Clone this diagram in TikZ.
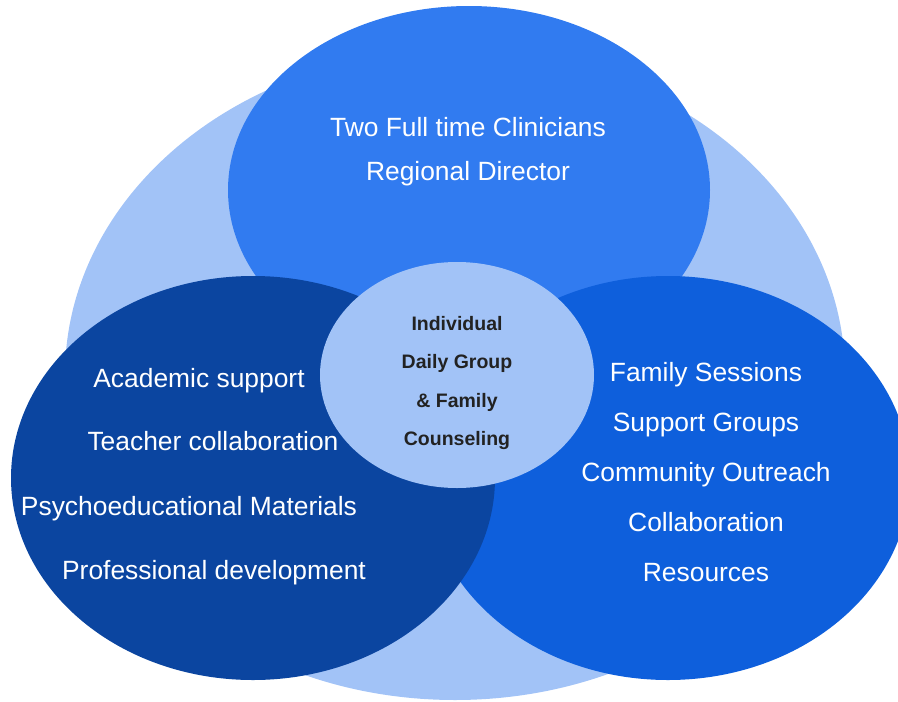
\documentclass[tikz,border=0pt]{standalone}
\usepackage{fontspec}
\setmainfont{Liberation Sans}
\usetikzlibrary{shapes.geometric}

\definecolor{paleBlue}{HTML}{A2C3F7}
\definecolor{midBlue}{HTML}{317BF0}
\definecolor{brightBlue}{HTML}{0E5FDC}
\definecolor{deepBlue}{HTML}{0B45A0}
\definecolor{darkText}{HTML}{222222}

\begin{document}
\begin{tikzpicture}[x=1pt,y=-1pt]
          \tikzstyle{blob} = [ellipse, inner sep=0pt, draw=none]
          \tikzstyle{item} = [text=white, font=\fontsize{26.4}{26.4}\selectfont, inner sep=0pt, anchor=base]
          \tikzstyle{core} = [text=darkText, font=\bfseries\fontsize{19.5}{19.5}\selectfont, inner sep=0pt, anchor=base]

          \useasboundingbox (0,0) rectangle (898,702);

          % back ellipse, then the three groups, centre on top
          \node(Outer)[blob, fill=paleBlue, minimum width=780pt, minimum height=650pt] at (455,375) {};
          \node(Staff)[blob, fill=midBlue, minimum width=482pt, minimum height=368pt] at (469,190) {};
          \node(Family)[blob, fill=brightBlue, minimum width=484pt, minimum height=404pt] at (668,478) {};
          \node(School)[blob, fill=deepBlue, minimum width=484pt, minimum height=404pt] at (253,478) {};
          \node(Counseling)[blob, fill=paleBlue, minimum width=274pt, minimum height=226pt] at (457,375) {};

          % staff
          \node(staffA)[item] at (468,136) {Two Full time Clinicians};
          \node(staffB)[item] at (468,180) {Regional Director};

          % school side
          \node(schoolA)[item] at (199,387) {Academic support};
          \node(schoolB)[item] at (213,450) {Teacher collaboration};
          \node(schoolC)[item] at (189,515) {Psychoeducational Materials};
          \node(schoolD)[item] at (214,579) {Professional development};

          % family side
          \node(famA)[item] at (706,381) {Family Sessions};
          \node(famB)[item] at (706,431) {Support Groups};
          \node(famC)[item] at (706,481) {Community Outreach};
          \node(famD)[item] at (706,531) {Collaboration};
          \node(famE)[item] at (706,581) {Resources};

          % centre
          \node(coreA)[core] at (457,330) {Individual};
          \node(coreB)[core] at (457,368) {Daily Group};
          \node(coreC)[core] at (457,407) {\& Family};
          \node(coreD)[core] at (457,445) {Counseling};
        \end{tikzpicture}
\end{document}
